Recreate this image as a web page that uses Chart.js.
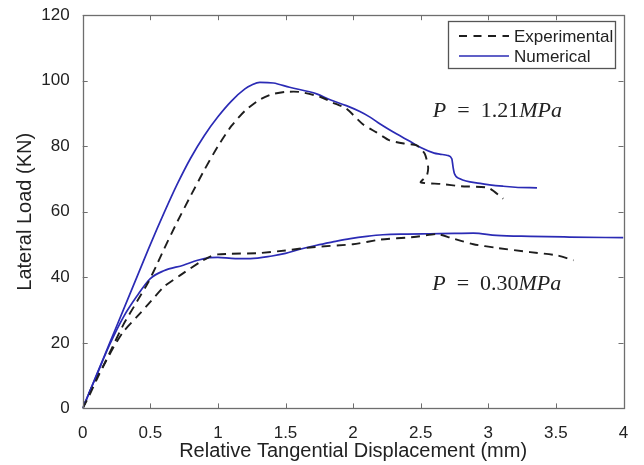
<!DOCTYPE html>
<html><head><meta charset="utf-8">
<script src="https://cdn.jsdelivr.net/npm/chart.js@4/dist/chart.umd.min.js"></script>
<style>html,body{margin:0;padding:0;background:#fff;}#wrap{width:644px;height:465px;position:relative;}</style>
</head><body><div id="wrap"><canvas id="c" width="644" height="465"></canvas></div>
<script>
// ---- data ----
const xTicks = [0, 0.5, 1, 1.5, 2, 2.5, 3, 3.5, 4];
const yTicks = [0, 20, 40, 60, 80, 100, 120];
const seriesNames = ['Experimental', 'Numerical'];
const pressureLabels = ['1.21', '0.30'];

const exp121X = [0, 0.05, 0.1, 0.2, 0.3, 0.4, 0.485, 0.55, 0.6, 0.7, 0.8, 0.9, 1.0, 1.1, 1.2, 1.3, 1.4, 1.5, 1.6, 1.75, 1.85, 1.95, 2.07, 2.17, 2.27, 2.38, 2.47, 2.53, 2.555, 2.545, 2.5, 2.65, 2.8, 3.0, 3.11];
const exp121Y = [0, 4, 8.5, 17, 25.5, 32.5, 38.5, 44, 48.5, 57, 65, 72.8, 80, 86.2, 90.8, 94, 95.9, 96.6, 96.6, 95.2, 93.3, 91.5, 86.8, 84.3, 81.8, 80.8, 80.3, 77.7, 73.6, 71, 69, 68.5, 67.8, 67.3, 64];

const num121X = [0, 0.1, 0.2, 0.3, 0.4, 0.5, 0.6, 0.7, 0.8, 0.9, 1.0, 1.1, 1.2, 1.25, 1.31, 1.41, 1.53, 1.73, 1.83, 1.95, 2.05, 2.125, 2.2, 2.32, 2.42, 2.5, 2.6, 2.64, 2.70, 2.73, 2.74, 2.75, 2.79, 2.94, 3.11, 3.2, 3.36];
const num121Y = [0, 10, 20, 30, 40, 50, 59.5, 68.5, 76.5, 83.3, 89, 93.8, 97.5, 98.7, 99.5, 99.3, 98, 96, 94.2, 92.4, 90.6, 88.9, 86.8, 83.8, 81.5, 79.6, 77.9, 77.6, 77.2, 76.2, 73.5, 71.6, 70.1, 68.7, 67.8, 67.5, 67.3];

const exp030X = [0, 0.08, 0.15, 0.23, 0.3, 0.4, 0.5, 0.6, 0.72, 0.87, 0.95, 1.0, 1.1, 1.3, 1.5, 1.7, 2.0, 2.2, 2.45, 2.62, 2.72, 2.89, 3.06, 3.31, 3.51, 3.63];
const exp030Y = [0, 7.6, 12.7, 18.8, 23.4, 27.9, 32.5, 37.1, 40.6, 44.7, 46.5, 47, 47.2, 47.4, 48.2, 49.2, 50.1, 51.5, 52.3, 53.2, 52.1, 50.1, 49, 47.7, 46.7, 45.2];

const num030X = [0, 0.1, 0.2, 0.3, 0.4, 0.5, 0.6, 0.744, 0.85, 0.94, 1.0, 1.1, 1.24, 1.4, 1.5, 1.6, 1.73, 1.85, 1.98, 2.1, 2.22, 2.4, 2.57, 2.75, 2.89, 3.06, 3.31, 3.6, 4.0];
const num030Y = [0, 9.8, 19.5, 27.8, 34.2, 39.6, 42, 43.7, 45.2, 46.0, 46.1, 45.8, 45.7, 46.5, 47.3, 48.5, 49.8, 50.8, 51.8, 52.5, 53, 53.2, 53.3, 53.4, 53.5, 52.8, 52.5, 52.3, 52.1];

// ---- styling ----
const BLUE = '#2b2bb5';
const BLACK = '#1e1e1e';
const DASH = [9, 6];
const zip = (xs, ys) => xs.map((x, i) => ({x: x, y: ys[i]}));

const expStyle = {borderColor: BLACK, borderWidth: 1.9, borderDash: DASH, pointRadius: 0, showLine: true, fill: false, tension: 0.2};
const numStyle = {borderColor: BLUE, borderWidth: 1.7, pointRadius: 0, showLine: true, fill: false, cubicInterpolationMode: 'monotone'};

const annotations = [
  {text: pressureLabels[0], x: 2.59, y: 88.8},
  {text: pressureLabels[1], x: 2.585, y: 36.1}
];

const decorPlugin = {
  id: 'decor',
  afterDraw(chart) {
    const ctx = chart.ctx;
    const a = chart.chartArea;
    const xs = chart.scales.x, ys = chart.scales.y;
    ctx.save();
    // inward ticks
    ctx.strokeStyle = '#6e6e6e';
    ctx.lineWidth = 1;
    ctx.beginPath();
    const TL = 5;
    xTicks.forEach(v => {
      const p = Math.round(xs.getPixelForValue(v)) + 0.5;
      ctx.moveTo(p, a.bottom); ctx.lineTo(p, a.bottom - TL);
      ctx.moveTo(p, a.top); ctx.lineTo(p, a.top + TL);
    });
    yTicks.forEach(v => {
      const p = Math.round(ys.getPixelForValue(v)) + 0.5;
      ctx.moveTo(a.left, p); ctx.lineTo(a.left + TL, p);
      ctx.moveTo(a.right, p); ctx.lineTo(a.right - TL, p);
    });
    ctx.stroke();
    // frame
    ctx.lineWidth = 1.3;
    ctx.strokeRect(Math.round(a.left) + 0.5, Math.round(a.top) + 0.5, Math.round(a.right - a.left), Math.round(a.bottom - a.top));

    // annotations
    annotations.forEach(an => {
      let px = xs.getPixelForValue(an.x);
      const py = ys.getPixelForValue(an.y);
      ctx.fillStyle = '#222';
      ctx.textBaseline = 'alphabetic';
      ctx.textAlign = 'left';
      const parts = [
        ['P', 'italic'], ['  =  ', 'normal'], [an.text, 'normal'], ['MPa', 'italic']
      ];
      parts.forEach(([t, st]) => {
        ctx.font = st + ' 22px "Liberation Serif", "Times New Roman", serif';
        ctx.fillText(t, px, py);
        px += ctx.measureText(t).width;
      });
    });

    // legend
    const L = {x: 448.5, y: 21.5, w: 167, h: 47};
    ctx.fillStyle = '#fff';
    ctx.fillRect(L.x, L.y, L.w, L.h);
    ctx.strokeStyle = '#555';
    ctx.lineWidth = 1.3;
    ctx.strokeRect(L.x, L.y, L.w, L.h);
    const rows = [
      {name: seriesNames[0], color: BLACK, dash: [8, 6.5], y: 36},
      {name: seriesNames[1], color: BLUE, dash: [], y: 56}
    ];
    rows.forEach(r => {
      ctx.beginPath();
      ctx.setLineDash(r.dash);
      ctx.strokeStyle = r.color;
      ctx.lineWidth = r.dash.length ? 1.9 : 1.7;
      ctx.moveTo(459, r.y); ctx.lineTo(509, r.y);
      ctx.stroke();
      ctx.setLineDash([]);
      ctx.fillStyle = '#222';
      ctx.font = '17px "Liberation Sans", Arial, sans-serif';
      ctx.textBaseline = 'middle';
      ctx.textAlign = 'left';
      ctx.fillText(r.name, 514, r.y + 1);
    });
    ctx.restore();
  }
};

new Chart(document.getElementById('c'), {
  type: 'scatter',
  data: {
    datasets: [
      Object.assign({label: seriesNames[0] + ' ' + pressureLabels[0], data: zip(exp121X, exp121Y)}, expStyle),
      Object.assign({label: seriesNames[1] + ' ' + pressureLabels[0], data: zip(num121X, num121Y)}, numStyle),
      Object.assign({label: seriesNames[0] + ' ' + pressureLabels[1], data: zip(exp030X, exp030Y)}, expStyle),
      Object.assign({label: seriesNames[1] + ' ' + pressureLabels[1], data: zip(num030X, num030Y)}, numStyle)
    ]
  },
  options: {
    responsive: false,
    animation: false,
    devicePixelRatio: 1,
    layout: {padding: {left: 0, right: 20.5, top: 14.5, bottom: 0}},
    plugins: {legend: {display: false}, tooltip: {enabled: false}},
    scales: {
      x: {
        type: 'linear', min: 0, max: 4,
        afterBuildTicks: s => { s.ticks = xTicks.map(v => ({value: v})); },
        afterFit: s => { s.height = 56.6; },
        grid: {display: false},
        border: {display: false},
        ticks: {color: '#222', padding: 7, maxRotation: 0, callback: v => String(+v), font: {family: '"Liberation Sans", Arial, sans-serif', size: 17}},
        title: {display: true, text: 'Relative Tangential Displacement (mm)', color: '#222', padding: {top: 0, bottom: 2}, font: {family: '"Liberation Sans", Arial, sans-serif', size: 20}}
      },
      y: {
        type: 'linear', min: 0, max: 120,
        afterBuildTicks: s => { s.ticks = yTicks.map(v => ({value: v})); },
        afterFit: s => { s.width = 82.7; },
        grid: {display: false},
        border: {display: false},
        ticks: {color: '#222', padding: 5, callback: v => String(+v), font: {family: '"Liberation Sans", Arial, sans-serif', size: 17}},
        title: {display: true, text: 'Lateral Load (KN)', color: '#222', padding: {top: 13, bottom: 0}, font: {family: '"Liberation Sans", Arial, sans-serif', size: 20}}
      }
    }
  },
  plugins: [decorPlugin]
});
</script>
</body></html>
